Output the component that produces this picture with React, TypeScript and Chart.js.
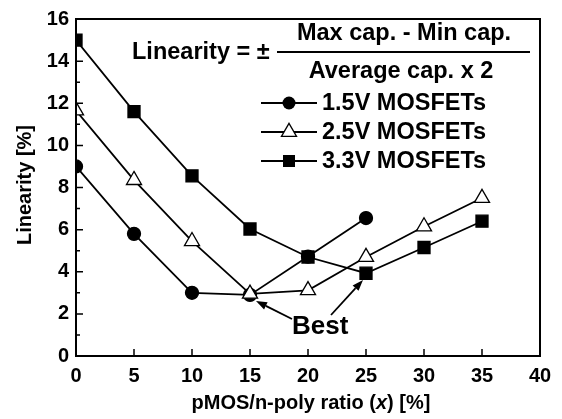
import React, { useEffect, useRef } from 'react';
import { Chart, registerables } from 'chart.js';

Chart.register(...registerables);

const xValues = [0, 5, 10, 15, 20, 25, 30, 35];
const series15 = [9.0, 5.8, 3.0, 2.9, 4.72, 6.55];
const series25 = [11.65, 8.35, 5.45, 2.95, 3.12, 4.7, 6.15, 7.5];
const series33 = [15.0, 11.6, 8.55, 6.03, 4.7, 3.93, 5.15, 6.4];
const seriesLabels = ['1.5V MOSFETs', '2.5V MOSFETs', '3.3V MOSFETs'];
const seriesMarkers = ['circle', 'triangle', 'rect'];
const xTickValues = [0, 5, 10, 15, 20, 25, 30, 35, 40];
const yTickValues = [0, 2, 4, 6, 8, 10, 12, 14, 16];
const yMinorTicks = [1, 3, 5, 7, 9, 11, 13, 15];

const FONT = '"Liberation Sans", Arial, Helvetica, sans-serif';

function drawMarker(ctx: CanvasRenderingContext2D, kind: string, x: number, y: number) {
  ctx.save();
  ctx.lineWidth = 1.3;
  ctx.strokeStyle = '#000';
  if (kind === 'circle') {
    ctx.beginPath();
    ctx.arc(x, y, 6.5, 0, Math.PI * 2);
    ctx.fillStyle = '#000';
    ctx.fill();
  } else if (kind === 'triangle') {
    const r = 8.7;
    ctx.beginPath();
    for (let i = 0; i < 3; i++) {
      const a = (i * 2 * Math.PI) / 3;
      const px = x + Math.sin(a) * r;
      const py = y - Math.cos(a) * r;
      if (i === 0) ctx.moveTo(px, py);
      else ctx.lineTo(px, py);
    }
    ctx.closePath();
    ctx.fillStyle = '#fff';
    ctx.fill();
    ctx.stroke();
  } else {
    ctx.fillStyle = '#000';
    ctx.fillRect(x - 6, y - 6, 12, 12);
  }
  ctx.restore();
}

function arrow(ctx: CanvasRenderingContext2D, x1: number, y1: number, x2: number, y2: number) {
  ctx.save();
  ctx.strokeStyle = '#000';
  ctx.fillStyle = '#000';
  ctx.lineWidth = 1.8;
  const ang = Math.atan2(y2 - y1, x2 - x1);
  const hl = 11;
  const hw = 4;
  const bx = x2 - Math.cos(ang) * hl;
  const by = y2 - Math.sin(ang) * hl;
  ctx.beginPath();
  ctx.moveTo(x1, y1);
  ctx.lineTo(bx, by);
  ctx.stroke();
  ctx.beginPath();
  ctx.moveTo(x2, y2);
  ctx.lineTo(bx + Math.sin(ang) * hw, by - Math.cos(ang) * hw);
  ctx.lineTo(bx - Math.sin(ang) * hw, by + Math.cos(ang) * hw);
  ctx.closePath();
  ctx.fill();
  ctx.restore();
}

const overlayPlugin = {
  id: 'overlay',
  afterDraw(chart: any) {
    const ctx: CanvasRenderingContext2D = chart.ctx;
    const { left, right, top, bottom } = chart.chartArea;
    const xs = chart.scales.x;
    const ys = chart.scales.y;
    ctx.save();
    ctx.strokeStyle = '#000';
    ctx.lineWidth = 2;
    ctx.strokeRect(left, top, right - left, bottom - top);
    ctx.lineWidth = 1.5;
    ctx.beginPath();
    xTickValues.forEach((v) => {
      const px = xs.getPixelForValue(v);
      ctx.moveTo(px, bottom);
      ctx.lineTo(px, bottom - 7);
    });
    yTickValues.forEach((v) => {
      const py = ys.getPixelForValue(v);
      ctx.moveTo(left, py);
      ctx.lineTo(left + 7, py);
    });
    yMinorTicks.forEach((v) => {
      const py = ys.getPixelForValue(v);
      ctx.moveTo(left, py);
      ctx.lineTo(left + 4, py);
    });
    ctx.stroke();

    ctx.fillStyle = '#000';
    // Y title
    ctx.save();
    ctx.translate(25, 185);
    ctx.rotate(-Math.PI / 2);
    ctx.font = `bold 20px ${FONT}`;
    ctx.textAlign = 'center';
    ctx.textBaseline = 'middle';
    ctx.fillText('Linearity [%]', 0, 0);
    ctx.restore();

    // X title with italic x
    const p1 = 'pMOS/n-poly ratio (';
    const p2 = 'x';
    const p3 = ') [%]';
    ctx.textBaseline = 'middle';
    ctx.textAlign = 'left';
    ctx.font = `bold 20px ${FONT}`;
    const w1 = ctx.measureText(p1).width;
    const w3 = ctx.measureText(p3).width;
    ctx.font = `italic bold 20px ${FONT}`;
    const w2 = ctx.measureText(p2).width;
    let sx = 311 - (w1 + w2 + w3) / 2;
    const ty = 403;
    ctx.font = `bold 20px ${FONT}`;
    ctx.fillText(p1, sx, ty);
    sx += w1;
    ctx.font = `italic bold 20px ${FONT}`;
    ctx.fillText(p2, sx, ty);
    sx += w2;
    ctx.font = `bold 20px ${FONT}`;
    ctx.fillText(p3, sx, ty);

    // Formula
    ctx.font = `bold 23.5px ${FONT}`;
    ctx.textAlign = 'left';
    ctx.fillText('Linearity = \u00B1', 132, 53);
    ctx.textAlign = 'center';
    ctx.fillText('Max cap. - Min cap.', 404, 34);
    ctx.fillText('Average cap. x 2', 401, 72);
    ctx.lineWidth = 2;
    ctx.beginPath();
    ctx.moveTo(277, 52);
    ctx.lineTo(530, 52);
    ctx.stroke();

    // Legend
    const rows = [103, 132, 161];
    ctx.font = `bold 23.5px ${FONT}`;
    ctx.textAlign = 'left';
    rows.forEach((ry, i) => {
      ctx.lineWidth = 1.8;
      ctx.beginPath();
      ctx.moveTo(261, ry);
      ctx.lineTo(317, ry);
      ctx.stroke();
      drawMarker(ctx, seriesMarkers[i], 289, ry);
      ctx.fillStyle = '#000';
      ctx.fillText(seriesLabels[i], 322, ry + 1);
    });

    // Best annotation
    ctx.font = `bold 26px ${FONT}`;
    ctx.textAlign = 'left';
    ctx.fillText('Best', 292, 327);
    arrow(ctx, 292, 319, 256, 301);
    arrow(ctx, 331, 315, 363, 280);
    ctx.restore();
  },
};

export default function App() {
  const canvasRef = useRef<HTMLCanvasElement | null>(null);

  useEffect(() => {
    if (!canvasRef.current) return;
    const mk = (data: number[]) => data.map((y, i) => ({ x: xValues[i], y }));
    const common = {
      borderColor: '#000',
      borderWidth: 1.8,
      pointBorderColor: '#000',
      pointBorderWidth: 1.3,
      showLine: true,
      tension: 0,
    };
    const chart = new Chart(canvasRef.current, {
      type: 'scatter',
      data: {
        datasets: [
          {
            ...common,
            label: seriesLabels[0],
            data: mk(series15),
            pointStyle: 'circle',
            pointRadius: 6.5,
            pointBackgroundColor: '#000',
            order: 3,
          },
          {
            ...common,
            label: seriesLabels[1],
            data: mk(series25),
            pointStyle: 'triangle',
            pointRadius: 8.7,
            pointBackgroundColor: '#fff',
            order: 1,
          },
          {
            ...common,
            label: seriesLabels[2],
            data: mk(series33),
            pointStyle: 'rect',
            pointRadius: 8.5,
            pointBackgroundColor: '#000',
            order: 2,
          },
        ],
      } as any,
      options: {
        animation: false,
        responsive: false,
        devicePixelRatio: 1,
        layout: { padding: { left: 0, top: 14, right: 22, bottom: 0 } },
        plugins: { legend: { display: false }, tooltip: { enabled: false } },
        scales: {
          x: {
            type: 'linear',
            min: 0,
            max: 40,
            afterFit: (s: any) => {
              s.height = 63;
            },
            afterBuildTicks: (s: any) => {
              s.ticks = xTickValues.map((v) => ({ value: v }));
            },
            grid: { display: false, drawTicks: false },
            border: { display: false },
            ticks: {
              color: '#000',
              padding: 8,
              font: { family: FONT, size: 20, weight: 'bold' },
            },
          },
          y: {
            type: 'linear',
            min: 0,
            max: 16,
            afterFit: (s: any) => {
              s.width = 76;
            },
            afterBuildTicks: (s: any) => {
              s.ticks = yTickValues.map((v) => ({ value: v }));
            },
            grid: { display: false, drawTicks: false },
            border: { display: false },
            ticks: {
              color: '#000',
              padding: 7,
              font: { family: FONT, size: 20, weight: 'bold' },
            },
          },
        },
      } as any,
      plugins: [overlayPlugin],
    });
    return () => chart.destroy();
  }, []);

  return (
    <div style={{ position: 'fixed', left: 0, top: 0, width: 562, height: 419, background: '#fff' }}>
      <canvas ref={canvasRef} width={562} height={419} style={{ width: 562, height: 419 }} />
    </div>
  );
}
